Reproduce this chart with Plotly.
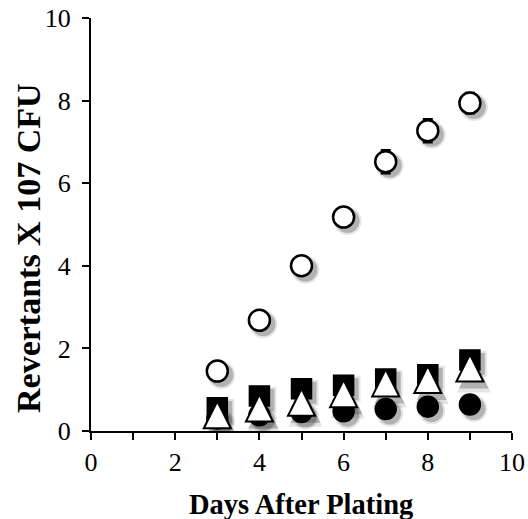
import plotly.graph_objects as go

days = [3, 4, 5, 6, 7, 8, 9]
open_circle = [1.45, 2.68, 4.0, 5.18, 6.52, 7.27, 7.94]
open_circle_err = [0.08, 0.1, 0.1, 0.2, 0.28, 0.28, 0.25]
black_square = [0.56, 0.85, 1.02, 1.11, 1.26, 1.36, 1.72]
black_circle = [0.3, 0.38, 0.46, 0.48, 0.53, 0.59, 0.64]
open_triangle = [0.37, 0.53, 0.67, 0.88, 1.14, 1.22, 1.5]

x_title = "Days After Plating"
y_title = "Revertants X 107 CFU"

W, H = 528, 519
L, R, T, B = 91, 16, 18, 88
px_per_unit_y = (H - T - B) / 10.0
px_per_unit_x = (W - L - R) / 10.0
shx = 4 / px_per_unit_x          # shadow offset right
shy = 4 / px_per_unit_y          # shadow offset down
tri_size = 29
tri_off = (tri_size / 2) / px_per_unit_y   # centre the arrow-shaped triangle

fig = go.Figure()

def shadow(y, symbol, size, yaxis="y"):
    for extra, alpha in [(5, 0.10), (1, 0.22)]:
        fig.add_trace(go.Scatter(x=days, y=y, mode="markers", xaxis="x", yaxis=yaxis,
                                 marker=dict(symbol=symbol, size=size + extra,
                                             color="rgba(0,0,0,%s)" % alpha,
                                             line=dict(width=0)),
                                 hoverinfo="skip", showlegend=False))

shadow(black_circle, "circle", 22)
shadow(black_square, "square", 21)
shadow(open_circle, "circle", 23)
shadow(open_triangle, "arrow-up", tri_size, yaxis="y3")

def main(yaxis="y2", **kw):
    fig.add_trace(go.Scatter(x=days, mode="markers", xaxis="x2", yaxis=yaxis,
                             showlegend=False, **kw))

main(y=black_circle, marker=dict(symbol="circle", size=21, color="black",
                                 line=dict(color="black", width=1.5)))
main(y=black_square, marker=dict(symbol="square", size=20, color="black",
                                 line=dict(color="black", width=1.5)))
main(y=open_circle,
     error_y=dict(type="data", array=open_circle_err, color="black", thickness=2.2, width=5),
     marker=dict(symbol="circle", size=21, color="white",
                 line=dict(color="black", width=2.5)))
main(yaxis="y4", y=open_triangle,
     marker=dict(symbol="arrow-up", size=tri_size - 2, color="white",
                 line=dict(color="black", width=2)))

tickfont = dict(family="Liberation Serif", size=26, color="black")
common = dict(range=[0, 10], dtick=2, showgrid=False, zeroline=False,
              showline=True, linecolor="black", linewidth=2.3,
              ticks="outside", ticklen=7, tickwidth=2.3, tickcolor="black",
              tickfont=tickfont, automargin=False, ticklabeloverflow="allow")

fig.update_layout(
    width=W, height=H,
    margin=dict(l=L, r=R, t=T, b=B),
    paper_bgcolor="white", plot_bgcolor="white",
    showlegend=False,
    xaxis=dict(range=[-shx, 10 - shx], visible=False),
    yaxis=dict(range=[shy, 10 + shy], visible=False),
    yaxis3=dict(range=[shy - tri_off, 10 + shy - tri_off], overlaying="y", visible=False),
    xaxis2=dict(**common, overlaying="x", anchor="y2", side="bottom",
                minor=dict(dtick=1, ticks="outside", ticklen=7, tickwidth=2.3, tickcolor="black")),
    yaxis2=dict(**common, overlaying="y", anchor="x2", side="left", ticklabelstandoff=6),
    yaxis4=dict(range=[-tri_off, 10 - tri_off], overlaying="y", visible=False),
    annotations=[
        dict(text="<b>%s</b>" % x_title, xref="paper", yref="paper",
             x=(301 - L) / (W - L - R), y=-(504 - (H - B)) / (H - T - B),
             xanchor="center", yanchor="middle", showarrow=False,
             font=dict(family="Liberation Serif", size=28.5, color="black")),
        dict(text="<b>%s</b>" % y_title, xref="paper", yref="paper", textangle=-90,
             x=(28 - L) / (W - L - R), y=((H - B) - 248) / (H - T - B),
             xanchor="center", yanchor="middle", showarrow=False,
             font=dict(family="Liberation Serif", size=34, color="black")),
    ],
)
fig.write_html("out.html",
               config={"displayModeBar": False},
               post_script="document.body.style.margin='0';document.body.style.overflow='hidden';")
